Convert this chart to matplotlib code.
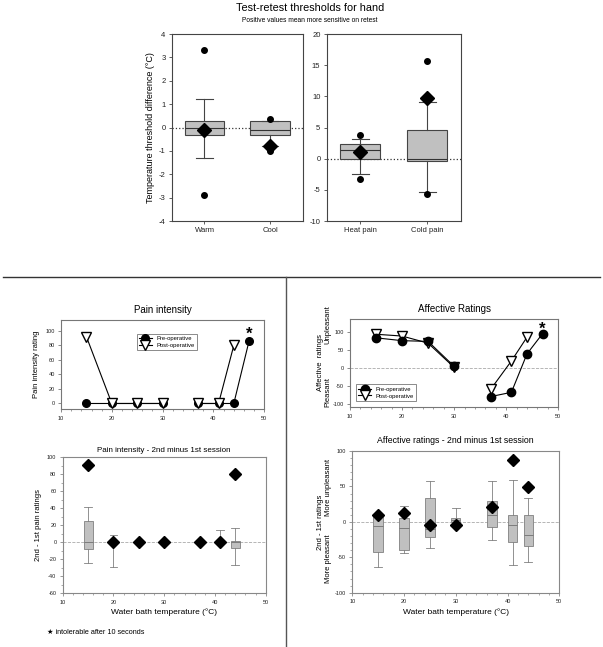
import numpy as np
import matplotlib
matplotlib.use('Agg')
import matplotlib.pyplot as plt
from matplotlib.ticker import MultipleLocator

plt.rcParams['font.family'] = ['Liberation Sans', 'DejaVu Sans']
plt.rcParams['axes.unicode_minus'] = False

# --- test-retest thresholds (top panels) ---
thr_labels_a = ['Warm', 'Cool']
thr_q1_a = [-0.31, -0.33]
thr_med_a = [0.0, -0.1]
thr_q3_a = [0.29, 0.29]
thr_lo_a = [-1.32, -0.8]
thr_hi_a = [1.2, 0.3]
thr_fliers_a = [[3.3, -2.9], [0.35, -1.0, -0.88]]
thr_mean_a = [-0.1, -0.8]

thr_labels_b = ['Heat pain', 'Cold pain']
thr_q1_b = [-0.1, -0.45]
thr_med_b = [1.35, 0.0]
thr_q3_b = [2.4, 4.6]
thr_lo_b = [-2.5, -5.3]
thr_hi_b = [3.1, 9.1]
thr_fliers_b = [[3.8, -3.2], [15.7, -5.6]]
thr_mean_b = [1.15, 9.7]

# --- water bath ratings (bottom panels); NaN = temperature not tested ---
temps = [15, 20, 25, 30, 34, 37, 41, 44, 47]
pain_pre = [0, 0, 0, 0, np.nan, 0, 0, 0, 86]
pain_post = [92, 0, 0, 0, np.nan, 0, 0, 80, np.nan]
aff_pre = [85, 77, 75, 5, np.nan, -80, -68, 40, 97]
aff_post = [95, 90, 70, 2, np.nan, -60, 20, 87, np.nan]
intolerable_temp = 47
pain_star_y = 104
aff_star_y = 126

diff_temps = [15, 20, 25, 30, 37, 41, 44]
pdiff_q1 = [-8, 0, 0, 0, 0, 0, -7]
pdiff_med = [0, 0, 0, 0, 0, 0, 0]
pdiff_q3 = [25, 0, 0, 0, 0, 0, 1]
pdiff_lo = [-24, -29, 0, 0, 0, 0, -27]
pdiff_hi = [41, 9, 0, 0, 0, 14, 17]
pdiff_mean = [91, 0, 0, 0, 0, 0, 80]

adiff_q1 = [-43, -39, -22, 0, -7, -28, -34]
adiff_med = [-6, -8, -10, 2, 9, -5, -18]
adiff_q3 = [10, 6, 34, 5, 29, 9, 9]
adiff_lo = [-63, -44, -37, 0, -25, -61, -57]
adiff_hi = [10, 23, 57, 19, 57, 59, 33]
adiff_mean = [10, 13, -5, -5, 21, 87, 49]


def make_stats(q1, med, q3, lo, hi, fliers=None):
    stats = []
    for i in range(len(q1)):
        stats.append(dict(q1=q1[i], med=med[i], q3=q3[i], whislo=lo[i], whishi=hi[i],
                          fliers=fliers[i] if fliers else []))
    return stats


def style_axis(ax, spine_col, fs):
    for s in ax.spines.values():
        s.set_color(spine_col)
        s.set_linewidth(0.8)
    ax.tick_params(labelsize=fs, length=2.5, width=0.6, color=spine_col, pad=2,
                   labelcolor='#222222')
    ax.tick_params(which='minor', length=1.5, width=0.5, color=spine_col)


def star(ax, x, y):
    # asterisk glyph sits high in its box, so anchor the baseline below the target
    ax.annotate('*', xy=(x, y), xytext=(0, -7.5), textcoords='offset points',
                ha='center', va='baseline', fontsize=12, fontweight='bold')


fig = plt.figure(figsize=(6.03, 6.47), dpi=100)

# ---------------- top panels ----------------
box_kw = dict(patch_artist=True, showfliers=True, widths=0.6, capwidths=0.25,
              boxprops=dict(facecolor='#c0c0c0', edgecolor='#444444', linewidth=0.8),
              medianprops=dict(color='#333333', linewidth=0.8),
              whiskerprops=dict(color='#444444', linewidth=0.8),
              capprops=dict(color='#444444', linewidth=0.8),
              flierprops=dict(marker='o', markerfacecolor='black', markeredgecolor='black',
                              markersize=4))

ax1 = fig.add_axes([0.2847, 0.6584, 0.2177, 0.289])
ax1.axhline(0, color='#333333', linestyle=':', linewidth=0.9, zorder=0)
ax1.bxp(make_stats(thr_q1_a, thr_med_a, thr_q3_a, thr_lo_a, thr_hi_a, thr_fliers_a),
        positions=[1, 2], **box_kw)
ax1.plot([1, 2], thr_mean_a, linestyle='none', marker='D', color='black', markersize=7, zorder=5)
ax1.set_xlim(0.5, 2.5)
ax1.set_ylim(-4, 4)
ax1.set_yticks(np.arange(-4, 5, 1))
ax1.set_xticks([1, 2])
ax1.set_xticklabels(thr_labels_a)
ax1.set_ylabel('Temperature threshold difference (°C)', fontsize=6.5, labelpad=3)
style_axis(ax1, '#444444', 5.5)

ax2 = fig.add_axes([0.5418, 0.6584, 0.2222, 0.289])
ax2.axhline(0, color='#333333', linestyle=':', linewidth=0.9, zorder=0)
ax2.bxp(make_stats(thr_q1_b, thr_med_b, thr_q3_b, thr_lo_b, thr_hi_b, thr_fliers_b),
        positions=[1, 2], **box_kw)
ax2.plot([1, 2], thr_mean_b, linestyle='none', marker='D', color='black', markersize=7, zorder=5)
ax2.set_xlim(0.5, 2.5)
ax2.set_ylim(-10, 20)
ax2.set_yticks(np.arange(-10, 21, 5))
ax2.set_xticks([1, 2])
ax2.set_xticklabels(thr_labels_b)
style_axis(ax2, '#444444', 5.5)

fig.text(0.514, 0.988, 'Test-retest thresholds for hand', ha='center', va='center', fontsize=7.8)
fig.text(0.514, 0.969, 'Positive values mean more sensitive on retest', ha='center', va='center',
         fontsize=4.8)

# divider lines
fig.add_artist(plt.Line2D([0.005, 0.995], [1 - 277 / 647, 1 - 277 / 647], color='#333333',
                          linewidth=1.0, transform=fig.transFigure))
fig.add_artist(plt.Line2D([286 / 603, 286 / 603], [0.0, 1 - 277 / 647], color='#555555',
                          linewidth=1.0, transform=fig.transFigure))

# ---------------- pain intensity ----------------
ax3 = fig.add_axes([0.1012, 0.3674, 0.3371, 0.138])
ax3.plot(temps, pain_pre, color='black', linewidth=0.8, marker='o', markersize=5.5,
         markerfacecolor='black', label='Pre-operative', zorder=3)
ax3.plot(temps, pain_post, color='black', linewidth=0.8, marker='v', markersize=6.5,
         markerfacecolor='white', markeredgecolor='black', label='Post-operative', zorder=4)
star(ax3, intolerable_temp, pain_star_y)
ax3.set_xlim(10, 50)
ax3.set_ylim(-8, 115)
ax3.set_yticks(np.arange(0, 101, 20))
ax3.set_xticks(np.arange(10, 51, 10))
ax3.xaxis.set_minor_locator(MultipleLocator(2))
ax3.set_ylabel('Pain intensity rating', fontsize=5.5, labelpad=4)
ax3.set_title('Pain intensity', fontsize=7, pad=5)
style_axis(ax3, '#777777', 4)
leg = ax3.legend(loc='upper center', bbox_to_anchor=(0.52, 0.88), fontsize=4.2, frameon=True,
                 fancybox=False, handlelength=2.2, borderpad=0.4, labelspacing=0.3)
leg.get_frame().set_edgecolor('#555555')
leg.get_frame().set_linewidth(0.6)

# ---------------- pain difference ----------------
diff_kw = dict(patch_artist=True, showfliers=False, widths=1.8, capwidths=1.5,
               boxprops=dict(facecolor='#c0c0c0', edgecolor='#808080', linewidth=0.6),
               medianprops=dict(color='#707070', linewidth=0.6),
               whiskerprops=dict(color='#808080', linewidth=0.6),
               capprops=dict(color='#808080', linewidth=0.6))

ax4 = fig.add_axes([0.104, 0.083, 0.3367, 0.2102])
ax4.axhline(0, color='#aaaaaa', linestyle='--', linewidth=0.6, zorder=0)
ax4.bxp(make_stats(pdiff_q1, pdiff_med, pdiff_q3, pdiff_lo, pdiff_hi),
        positions=diff_temps, **diff_kw)
ax4.plot(diff_temps, pdiff_mean, linestyle='none', marker='D', color='black', markersize=6.5,
         zorder=5)
ax4.set_xlim(10, 50)
ax4.set_ylim(-60, 100)
ax4.set_yticks(np.arange(-60, 101, 20))
ax4.set_xticks(np.arange(10, 51, 10))
ax4.set_xticklabels([str(t) for t in range(10, 51, 10)])
ax4.xaxis.set_minor_locator(MultipleLocator(2))
ax4.yaxis.set_minor_locator(MultipleLocator(10))
ax4.set_ylabel('2nd - 1st pain ratings', fontsize=5.5, labelpad=4)
ax4.set_xlabel('Water bath temperature (°C)', fontsize=6, labelpad=3)
ax4.set_title('Pain intensity - 2nd minus 1st session', fontsize=5.8, pad=4)
style_axis(ax4, '#888888', 4)

fig.text(0.078, 0.022, '★ intolerable after 10 seconds', ha='left', va='center', fontsize=5.2)

# ---------------- affective ratings ----------------
ax5 = fig.add_axes([0.5804, 0.3705, 0.3454, 0.136])
ax5.axhline(0, color='#aaaaaa', linestyle='--', linewidth=0.6, zorder=0)
ax5.plot(temps, aff_pre, color='black', linewidth=0.8, marker='o', markersize=6,
         markerfacecolor='black', label='Pre-operative', zorder=4)
ax5.plot(temps, aff_post, color='black', linewidth=0.8, marker='v', markersize=6.5,
         markerfacecolor='white', markeredgecolor='black', label='Post-operative', zorder=3)
star(ax5, intolerable_temp, aff_star_y)
ax5.set_xlim(10, 50)
ax5.set_ylim(-110, 137)
ax5.set_yticks([-100, -50, 0, 50, 100])
ax5.set_xticks(np.arange(10, 51, 10))
ax5.xaxis.set_minor_locator(MultipleLocator(2))
ax5.set_title('Affective Ratings', fontsize=7, pad=5)
style_axis(ax5, '#777777', 4)
leg = ax5.legend(handles=ax5.get_lines()[1:], loc='lower left', bbox_to_anchor=(0.015, 0.04),
                 fontsize=4.2, frameon=True, fancybox=False, handlelength=2.2, borderpad=0.4,
                 labelspacing=0.3)
leg.get_frame().set_edgecolor('#555555')
leg.get_frame().set_linewidth(0.6)

fig.text(0.531, 0.4395, 'Affective  ratings', rotation=90, ha='center', va='center', fontsize=5.5)
fig.text(0.544, 0.3946, 'Pleasant', rotation=90, ha='center', va='center', fontsize=5.5)
fig.text(0.544, 0.4977, 'Unpleasant', rotation=90, ha='center', va='center', fontsize=5.5)

# ---------------- affective difference ----------------
ax6 = fig.add_axes([0.5842, 0.0839, 0.3433, 0.219])
ax6.axhline(0, color='#aaaaaa', linestyle='--', linewidth=0.6, zorder=0)
ax6.bxp(make_stats(adiff_q1, adiff_med, adiff_q3, adiff_lo, adiff_hi),
        positions=diff_temps, **diff_kw)
ax6.plot(diff_temps, adiff_mean, linestyle='none', marker='D', color='black', markersize=6.5,
         zorder=5)
ax6.set_xlim(10, 50)
ax6.set_ylim(-100, 100)
ax6.set_yticks([-100, -50, 0, 50, 100])
ax6.set_xticks(np.arange(10, 51, 10))
ax6.set_xticklabels([str(t) for t in range(10, 51, 10)])
ax6.xaxis.set_minor_locator(MultipleLocator(2))
ax6.yaxis.set_minor_locator(MultipleLocator(10))
ax6.set_xlabel('Water bath temperature (°C)', fontsize=6, labelpad=3)
ax6.set_title('Affective ratings - 2nd minus 1st session', fontsize=6.3, pad=6)
style_axis(ax6, '#888888', 4)

fig.text(0.532, 0.193, '2nd - 1st ratings', rotation=90, ha='center', va='center', fontsize=5.5)
fig.text(0.5456, 0.136, 'More pleasant', rotation=90, ha='center', va='center', fontsize=5.5)
fig.text(0.5456, 0.2465, 'More unpleasant', rotation=90, ha='center', va='center', fontsize=5.5)

fig.savefig('out.png', dpi=100)
